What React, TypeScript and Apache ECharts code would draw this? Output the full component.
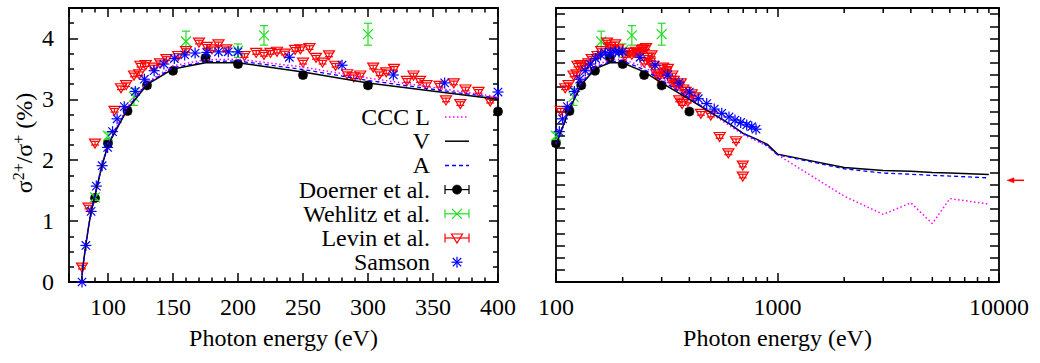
import React, { useEffect, useRef } from 'react';
import * as echarts from 'echarts';

// ---------------- data ----------------
const theoryEnergy = [79.5, 81, 83, 85, 87, 90, 95, 100, 115, 130, 150, 175, 200, 250, 300, 400, 500, 600, 700, 800, 900, 1000, 2000, 3000, 4000, 5000, 6000, 9000];
const cccLValues = [0, 0.3, 0.62, 0.9, 1.16, 1.43, 1.9, 2.27, 2.88, 3.28, 3.55, 3.65, 3.66, 3.53, 3.35, 3.04, 2.77, 2.58, 2.42, 2.32, 2.23, 2.09, 1.41, 1.11, 1.30, 0.96, 1.37, 1.28];
const cccVValues = [0, 0.3, 0.62, 0.9, 1.15, 1.42, 1.88, 2.25, 2.84, 3.24, 3.50, 3.60, 3.60, 3.45, 3.27, 3.00, 2.78, 2.61, 2.44, 2.35, 2.26, 2.10, 1.88, 1.83, 1.82, 1.80, 1.79, 1.765];
const cccAValues = [0, 0.3, 0.62, 0.9, 1.15, 1.42, 1.89, 2.26, 2.86, 3.26, 3.52, 3.62, 3.63, 3.49, 3.31, 3.02, 2.79, 2.61, 2.44, 2.34, 2.24, 2.09, 1.86, 1.79, 1.77, 1.75, 1.74, 1.71];

const doernerEnergy = [90, 100, 115, 130, 150, 175, 200, 250, 300, 400];
const doernerValues = [1.38, 2.28, 2.81, 3.23, 3.47, 3.68, 3.58, 3.40, 3.23, 2.80];
const doernerErrors = [0.05, 0.05, 0.05, 0.05, 0.05, 0.05, 0.05, 0.05, 0.05, 0.05];

const wehlitzEnergy = [90, 100, 120, 160, 200, 220, 300];
const wehlitzValues = [1.39, 2.40, 3.04, 3.95, 3.80, 4.05, 4.07];
const wehlitzErrors = [0.05, 0.06, 0.14, 0.17, 0.11, 0.16, 0.18];

const levinEnergy = [80, 85, 90, 105, 110, 114, 120, 124, 125, 129, 135, 140, 145, 154, 160, 170, 176, 180, 185, 191, 205, 214, 220, 225, 230, 236, 244, 248, 250, 255, 260, 265, 270, 275, 284, 289, 294, 304, 309, 314, 320, 330, 335, 340, 345, 355, 360, 366, 371, 375, 385, 394, 410, 424, 451, 500, 548, 600, 650, 697, 697];
const levinValues = [0.245, 1.23, 2.28, 2.82, 3.19, 3.24, 3.40, 3.42, 3.56, 3.57, 3.53, 3.60, 3.67, 3.72, 3.80, 3.94, 3.87, 3.83, 3.91, 3.83, 3.72, 3.77, 3.74, 3.77, 3.79, 3.76, 3.82, 3.83, 3.61, 3.85, 3.69, 3.61, 3.73, 3.56, 3.42, 3.37, 3.40, 3.53, 3.42, 3.45, 3.51, 3.31, 3.40, 3.31, 3.24, 3.23, 2.99, 3.27, 2.93, 3.17, 3.13, 2.97, 3.09, 3.04, 2.77, 2.74, 2.39, 2.12, 2.32, 1.92, 1.74];
const levinErrors = levinValues.map(() => 0.03);

const samsonEnergy = [80, 83, 87, 91, 95.5, 99.7, 103.5, 107, 112.5, 121, 128, 135.5, 143, 151, 159, 167, 176, 185, 192.5, 200, 239.5, 280, 319.5, 359, 400, 439, 479, 518, 560, 604, 643, 682, 726, 765, 800];
const samsonValues = [0, 0.60, 1.16, 1.575, 1.91, 2.21, 2.47, 2.68, 2.88, 3.13, 3.33, 3.47, 3.58, 3.67, 3.73, 3.76, 3.77, 3.78, 3.78, 3.78, 3.69, 3.56, 3.40, 3.27, 3.12, 3.01, 2.93, 2.84, 2.77, 2.71, 2.66, 2.62, 2.58, 2.55, 2.51];

const logMinorTickValues = [200, 300, 400, 500, 600, 700, 800, 900, 2000, 3000, 4000, 5000, 6000, 7000, 8000, 9000];
const asymptoteValue = 1.67;

const yTickLabels = ['0', '1', '2', '3', '4'];
const leftXTickLabels = ['100', '150', '200', '250', '300', '350', '400'];
const rightXTickLabels = ['100', '1000', '10000'];

// ---------------- styles ----------------
const FONT = 'Liberation Serif, serif';
const FS = 24;
const GREEN = '#22dd22';
const RED = '#ff0000';
const BLUE = '#0000ff';
const MAGENTA = '#ff00ff';
const BLACK = '#000000';
const Y_MAX = 4.5;

const zip2 = (xs: number[], ys: number[]) => xs.map((x, i) => [x, ys[i]]);
const zip3 = (xs: number[], ys: number[], es: number[]) => xs.map((x, i) => [x, ys[i], es[i]]);

function ln(x1: number, y1: number, x2: number, y2: number, color: string, w = 1.2): any {
  return { type: 'line', shape: { x1, y1, x2, y2 }, style: { stroke: color, lineWidth: w, fill: 'none' } };
}

function symbolShapes(kind: string, cx: number, cy: number, color: string): any[] {
  if (kind === 'circle') {
    return [{ type: 'circle', shape: { cx, cy, r: 4.6 }, style: { fill: color, stroke: color, lineWidth: 0.5 } }];
  }
  if (kind === 'cross') {
    const s = 5;
    return [ln(cx - s, cy - s, cx + s, cy + s, color), ln(cx - s, cy + s, cx + s, cy - s, color)];
  }
  if (kind === 'tri') {
    return [{
      type: 'polygon',
      shape: { points: [[cx - 5.5, cy - 4], [cx + 5.5, cy - 4], [cx, cy + 5]] },
      style: { stroke: color, fill: 'none', lineWidth: 1.2 },
    }];
  }
  const s = 5.5;
  const d = 4.2;
  return [
    ln(cx - s, cy, cx + s, cy, color),
    ln(cx, cy - s, cx, cy + s, color),
    ln(cx - d, cy - d, cx + d, cy + d, color),
    ln(cx - d, cy + d, cx + d, cy - d, color),
  ];
}

function pointRenderer(kind: string, color: string, cap: number) {
  return (params: any, api: any) => {
    const x = api.value(0);
    const y = api.value(1);
    const e = api.value(2);
    const c = api.coord([x, y]);
    const children: any[] = [];
    if (e && e > 0) {
      const hi = api.coord([x, y + e]);
      const lo = api.coord([x, y - e]);
      children.push(ln(c[0], hi[1], c[0], lo[1], color));
      children.push(ln(c[0] - cap, hi[1], c[0] + cap, hi[1], color));
      children.push(ln(c[0] - cap, lo[1], c[0] + cap, lo[1], color));
    }
    children.push(...symbolShapes(kind, c[0], c[1], color));
    return { type: 'group', children };
  };
}

const tickLine = { lineStyle: { color: BLACK, width: 1.5 } };
const axisLineStyle = { show: true, onZero: false, lineStyle: { color: BLACK, width: 1.8 } };
const labelFont = { fontFamily: FONT, fontSize: FS, color: BLACK };
const blankLabels = { show: true, formatter: () => '' };

function buildOption() {
  const panels = [
    { xi: 0, yi: 0, keep: (p: number[]) => p[0] <= 400 },
    { xi: 2, yi: 2, keep: (p: number[]) => p[0] >= 100 },
  ];
  const series: any[] = [];
  panels.forEach((p) => {
    const lines = [
      { vals: cccLValues, color: MAGENTA, type: [1.5, 2.5], width: 1.5 },
      { vals: cccVValues, color: BLACK, type: 'solid', width: 1.5 },
      { vals: cccAValues, color: BLUE, type: [4, 3], width: 1.3 },
    ];
    lines.forEach((l) => {
      series.push({
        type: 'line',
        xAxisIndex: p.xi,
        yAxisIndex: p.yi,
        data: zip2(theoryEnergy, l.vals).filter(p.keep),
        showSymbol: false,
        symbol: 'none',
        silent: true,
        lineStyle: { color: l.color, width: l.width, type: l.type },
      });
    });
    const pts = [
      { data: zip3(doernerEnergy, doernerValues, doernerErrors), kind: 'circle', color: BLACK, cap: 4 },
      { data: zip3(wehlitzEnergy, wehlitzValues, wehlitzErrors), kind: 'cross', color: GREEN, cap: 4 },
      { data: zip3(levinEnergy, levinValues, levinErrors), kind: 'tri', color: RED, cap: 4 },
      { data: zip3(samsonEnergy, samsonValues, samsonValues.map(() => 0)), kind: 'star', color: BLUE, cap: 0 },
    ];
    pts.forEach((s) => {
      series.push({
        type: 'custom',
        xAxisIndex: p.xi,
        yAxisIndex: p.yi,
        data: s.data.filter(p.keep),
        encode: { x: 0, y: 1 },
        clip: false,
        silent: true,
        renderItem: pointRenderer(s.kind, s.color, s.cap),
      });
    });
  });

  series.push({
    type: 'custom',
    xAxisIndex: 2,
    yAxisIndex: 2,
    data: logMinorTickValues.map((v) => [v, 0]),
    encode: { x: 0, y: 1 },
    clip: false,
    silent: true,
    z: 5,
    renderItem: (params: any, api: any) => {
      const v = api.value(0);
      const b = api.coord([v, 0]);
      const t = api.coord([v, Y_MAX]);
      return {
        type: 'group',
        children: [ln(b[0], b[1], b[0], b[1] - 5, BLACK, 1.5), ln(t[0], t[1], t[0], t[1] + 5, BLACK, 1.5)],
      };
    },
  });

  series.push({
    type: 'custom',
    xAxisIndex: 2,
    yAxisIndex: 2,
    data: [[10000, asymptoteValue]],
    encode: { x: 0, y: 1 },
    clip: false,
    silent: true,
    renderItem: (params: any, api: any) => {
      const c = api.coord([api.value(0), api.value(1)]);
      const x0 = c[0] + 8;
      return {
        type: 'group',
        children: [
          ln(x0 + 5, c[1], x0 + 17, c[1], RED, 1.5),
          { type: 'polygon', shape: { points: [[x0, c[1]], [x0 + 7, c[1] - 2.5], [x0 + 7, c[1] + 2.5]] }, style: { fill: RED, stroke: RED, lineWidth: 0.5 } },
        ],
      };
    },
  });

  const legendRows = [
    { label: 'CCC L', kind: 'line', color: MAGENTA, dash: [1.5, 2.5] },
    { label: 'V', kind: 'line', color: BLACK, dash: null },
    { label: 'A', kind: 'line', color: BLUE, dash: [4, 3] },
    { label: 'Doerner et al.', kind: 'circle', color: BLACK, bar: true },
    { label: 'Wehlitz et al.', kind: 'cross', color: GREEN, bar: true },
    { label: 'Levin et al.', kind: 'tri', color: RED, bar: true },
    { label: 'Samson', kind: 'star', color: BLUE, bar: false },
  ];
  const graphic: any[] = [];
  const lx1 = 445;
  const lx2 = 469;
  legendRows.forEach((r: any, i: number) => {
    const y = 117 + i * 24.2;
    graphic.push({
      type: 'text', x: 430, y,
      style: { text: r.label, fontFamily: FONT, fontSize: FS, fill: BLACK, align: 'right', verticalAlign: 'middle' },
    });
    if (r.kind === 'line') {
      graphic.push({ type: 'line', shape: { x1: lx1, y1: y, x2: lx2, y2: y }, style: { stroke: r.color, lineWidth: 1.5, lineDash: r.dash } });
    } else {
      if (r.bar) {
        graphic.push(ln(lx1, y, lx2, y, r.color));
        graphic.push(ln(lx1, y - 4.5, lx1, y + 4.5, r.color));
        graphic.push(ln(lx2, y - 4.5, lx2, y + 4.5, r.color));
      }
      symbolShapes(r.kind, (lx1 + lx2) / 2, y, r.color).forEach((s) => graphic.push(s));
    }
  });
  graphic.push({
    type: 'text', x: 24, y: 143, rotation: Math.PI / 2,
    style: {
      text: '{a|σ}{b|2+}{a|/σ}{b|+}{a| (%)}',
      align: 'center', verticalAlign: 'middle', fill: BLACK,
      rich: {
        a: { fontFamily: FONT, fontSize: FS, lineHeight: 27, fill: BLACK },
        b: { fontFamily: FONT, fontSize: 16, lineHeight: 16, verticalAlign: 'top', fill: BLACK },
      },
    },
  });

  const majorTick = { show: true, inside: true, length: 9, ...tickLine };
  const leftX = {
    type: 'value', min: 70, max: 400, minInterval: 50, maxInterval: 50,
    axisLine: axisLineStyle, splitLine: { show: false },
    axisTick: majorTick,
    minorTick: { show: true, splitNumber: 5, length: 4.5, ...tickLine },
  };
  const leftY = {
    type: 'value', min: 0, max: Y_MAX, minInterval: 1, maxInterval: 1,
    axisLine: axisLineStyle, splitLine: { show: false },
    axisTick: majorTick,
    minorTick: { show: true, splitNumber: 4, length: 5, ...tickLine },
  };
  const rightX = {
    type: 'log', logBase: 10, min: 100, max: 10000,
    axisLine: axisLineStyle, splitLine: { show: false },
    axisTick: majorTick,
  };
  const rightY = {
    type: 'value', min: 0, max: Y_MAX, interval: 0.2,
    axisLine: axisLineStyle, splitLine: { show: false },
    axisTick: majorTick,
    axisLabel: blankLabels,
  };
  const nameCfg = {
    name: 'Photon energy (eV)', nameLocation: 'middle', nameGap: 44,
    nameTextStyle: { fontFamily: FONT, fontSize: FS, color: BLACK },
  };

  return {
    animation: false,
    backgroundColor: '#ffffff',
    textStyle: { fontFamily: FONT },
    grid: [
      { left: 69, top: 5, width: 429, height: 277 },
      { left: 556, top: 5, width: 443, height: 277 },
    ],
    xAxis: [
      {
        ...leftX, gridIndex: 0, position: 'bottom', ...nameCfg,
        axisLabel: {
          ...labelFont, margin: 13,
          formatter: (v: number) => (leftXTickLabels.includes(String(Math.round(v))) && Math.abs(v - Math.round(v)) < 1e-6 ? String(Math.round(v)) : ''),
        },
      },
      { ...leftX, gridIndex: 0, position: 'top', axisLabel: blankLabels },
      {
        ...rightX, gridIndex: 1, position: 'bottom', ...nameCfg,
        axisLabel: {
          ...labelFont, margin: 13,
          formatter: (v: number) => { const s = String(Math.round(v)); return rightXTickLabels.includes(s) ? s : ''; },
        },
      },
      { ...rightX, gridIndex: 1, position: 'top', axisLabel: blankLabels },
    ],
    yAxis: [
      {
        ...leftY, gridIndex: 0, position: 'left',
        axisLabel: {
          ...labelFont, margin: 15,
          formatter: (v: number) => { const s = String(Math.round(v)); return Math.abs(v - Math.round(v)) < 1e-6 && yTickLabels.includes(s) ? s : ''; },
        },
      },
      { ...leftY, gridIndex: 0, position: 'right', axisLabel: blankLabels },
      { ...rightY, gridIndex: 1, position: 'left' },
      { ...rightY, gridIndex: 1, position: 'right' },
    ],
    graphic,
    series,
  };
}

export default function App() {
  const ref = useRef<HTMLDivElement>(null);
  useEffect(() => {
    if (!ref.current) return;
    const chart = echarts.init(ref.current, null, { renderer: 'svg' });
    chart.setOption(buildOption() as any);
    return () => chart.dispose();
  }, []);
  return <div ref={ref} style={{ position: 'absolute', left: 0, top: 0, width: 1040, height: 363, background: '#fff' }} />;
}
